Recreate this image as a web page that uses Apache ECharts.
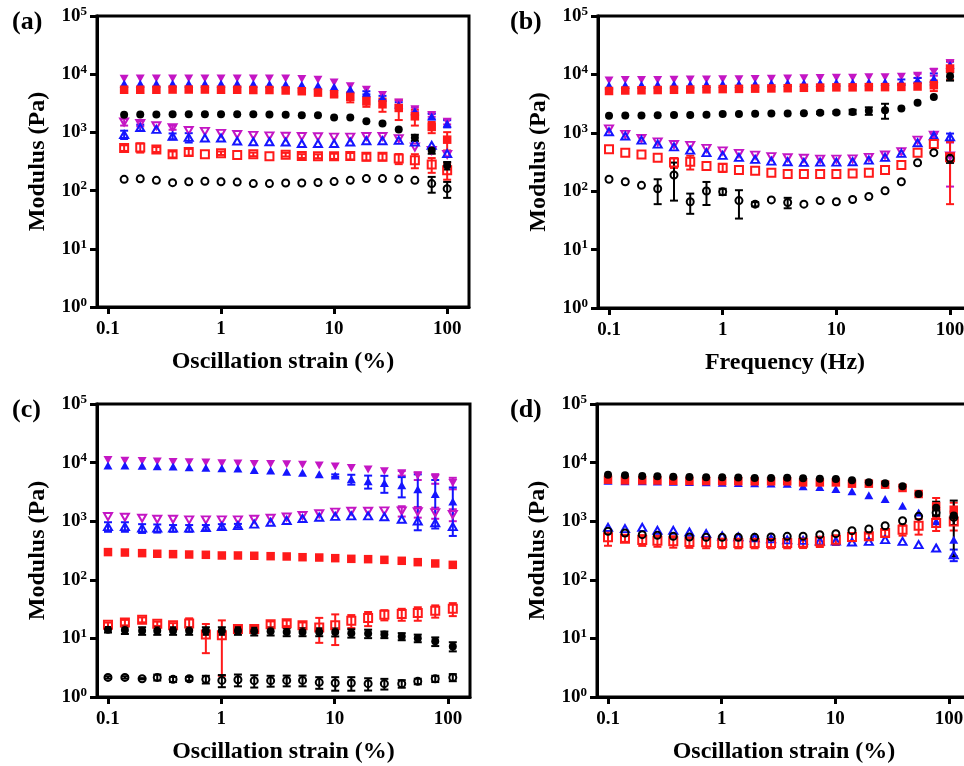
<!DOCTYPE html>
<html>
<head>
<meta charset="utf-8">
<script src="https://cdn.jsdelivr.net/npm/echarts@6/dist/echarts.min.js"></script>
<style>
    html, body { margin: 0; padding: 0; background: #fff; overflow: hidden; }
    #chart { width: 964px; height: 766px; }
</style>
</head>
<body>
<div id="chart"></div>
<script>
// x values (strain % or frequency Hz)
const strainA = [0.139, 0.193, 0.268, 0.373, 0.518, 0.72, 1, 1.39, 1.93, 2.68, 3.73, 5.18, 7.2, 10, 13.9, 19.3, 26.8, 37.3, 51.8, 73, 100];
const freqB = [0.1, 0.139, 0.193, 0.268, 0.373, 0.518, 0.72, 1, 1.39, 1.93, 2.68, 3.73, 5.18, 7.2, 10, 13.9, 19.3, 26.8, 37.3, 51.8, 72, 100];
const strainCD = [0.1, 0.141, 0.2, 0.272, 0.375, 0.52, 0.73, 1.01, 1.4, 1.95, 2.72, 3.77, 5.2, 7.3, 10.1, 14, 19.7, 27.4, 39, 54, 77, 110];

const xTicks = [0.1, 1, 10, 100];

// (a)
const aPinkFill = [8350, 8400, 8400, 8450, 8450, 8450, 8450, 8450, 8450, 8450, 8450, 8300, 8000, 7200, 6200, 5400, 4400, 3250, 2500, 2000, 1520];
const aPinkOpen = [1510, 1420, 1300, 1210, 1080, 1040, 960, 920, 890, 870, 857, 850, 840, 830, 830, 850, 850, 780, 560, 490, 420];
const aBlueFill = [6900, 6900, 6900, 6900, 6900, 6900, 6900, 6900, 6850, 6800, 6700, 6600, 6400, 6100, 5500, 4800, 3950, 3000, 2300, 1880, 1420];
const aBlueOpen = [920, 1210, 1130, 860, 820, 800, 800, 710, 690, 690, 684, 645, 645, 645, 684, 720, 720, 730, 680, 600, 432];
const aRedFill = [5400, 5400, 5400, 5450, 5450, 5450, 5400, 5400, 5350, 5350, 5250, 5100, 4830, 4520, 4080, 3400, 3040, 2630, 1890, 1240, 750];
const aRedOpen = [540, 550, 510, 420, 460, 420, 440, 410, 420, 390, 415, 393, 390, 390, 393, 380, 380, 355, 332, 282, 224];
const aBlackFill = [2020, 2030, 2040, 2050, 2050, 2050, 2050, 2050, 2050, 2030, 2020, 1970, 1970, 1800, 1800, 1550, 1420, 1120, 810, 490, 270];
const aBlackOpen = [156, 160, 150, 137, 142, 145, 142, 140, 132, 132, 135, 135, 138, 143, 150, 161, 161, 158, 150, 132, 108];
// (a) standard deviations
const aPinkFillSd = [0, 0, 0, 0, 0, 0, 0, 0, 0, 0, 0, 0, 0, 0, 0, 0, 0, 300, 200, 150, 150];
const aPinkOpenSd = [200, 150, 0, 100, 0, 0, 0, 0, 0, 0, 0, 0, 0, 0, 0, 0, 0, 0, 0, 0, 0];
const aBlueFillSd = [0, 0, 0, 0, 0, 0, 0, 0, 0, 0, 0, 0, 0, 0, 0, 300, 300, 300, 0, 200, 200];
const aBlueOpenSd = [150, 150, 0, 100, 150, 0, 0, 0, 0, 0, 0, 0, 0, 0, 0, 0, 0, 0, 0, 0, 0];
const aRedFillSd = [0, 0, 0, 0, 0, 0, 0, 0, 0, 0, 0, 200, 300, 350, 800, 650, 780, 1000, 580, 270, 260];
const aRedOpenSd = [60, 100, 50, 50, 60, 0, 30, 0, 30, 0, 30, 30, 30, 40, 50, 50, 50, 70, 90, 80, 70];
const aBlackFillSd = [0, 0, 0, 0, 0, 0, 0, 0, 0, 0, 0, 0, 0, 0, 0, 0, 0, 0, 100, 60, 40];
const aBlackOpenSd = [0, 0, 0, 0, 0, 0, 0, 0, 0, 0, 0, 0, 0, 0, 0, 0, 0, 0, 0, 40, 33];

// (b)
const bPinkFill = [7900, 8000, 8000, 8050, 8100, 8150, 8200, 8250, 8300, 8350, 8400, 8500, 8600, 8700, 8800, 8800, 8900, 8900, 9100, 9500, 11000, 15500];
const bPinkOpen = [1170, 940, 800, 700, 630, 610, 540, 490, 444, 415, 390, 374, 367, 355, 355, 358, 380, 417, 475, 750, 910, 400];
const bBlueFill = [6550, 6600, 6650, 6700, 6750, 6800, 6850, 6900, 6950, 7000, 7050, 7100, 7150, 7200, 7250, 7300, 7350, 7400, 7500, 8000, 8500, 14500];
const bBlueOpen = [1040, 880, 750, 640, 575, 506, 457, 411, 380, 351, 328, 320, 312, 315, 315, 320, 341, 380, 444, 676, 890, 850];
const bRedFill = [5200, 5300, 5350, 5400, 5450, 5500, 5550, 5600, 5650, 5700, 5750, 5800, 5900, 5950, 6000, 6000, 6050, 6050, 6100, 6200, 6530, 12600];
const bRedOpen = [525, 457, 427, 374, 310, 320, 270, 253, 230, 225, 207, 197, 197, 197, 197, 200, 207, 230, 280, 457, 640, 380];
const bBlackFill = [1960, 1970, 1980, 2000, 2010, 2020, 2040, 2090, 2100, 2120, 2130, 2140, 2170, 2200, 2230, 2280, 2380, 2440, 2610, 3260, 4120, 9330];
const bBlackOpen = [160, 145, 126, 110, 189, 66, 101, 98, 69, 60, 71, 64, 60, 69, 66, 72, 81, 102, 145, 307, 457, 365];
const bPinkFillSd = [0, 0, 0, 0, 0, 0, 0, 0, 0, 0, 0, 0, 0, 0, 0, 0, 0, 0, 0, 800, 1500, 2000];
const bPinkOpenSd = [0, 0, 0, 0, 0, 0, 0, 0, 0, 0, 0, 0, 0, 0, 0, 0, 0, 0, 0, 0, 0, 280];
const bBlueFillSd = [0, 0, 0, 0, 0, 0, 0, 0, 0, 0, 0, 0, 0, 0, 0, 0, 0, 0, 700, 700, 1900, 2000];
const bBlueOpenSd = [0, 0, 0, 0, 0, 0, 0, 0, 0, 0, 0, 0, 0, 0, 0, 0, 0, 0, 0, 0, 80, 120];
const bRedFillSd = [0, 0, 0, 0, 0, 0, 0, 0, 0, 0, 0, 0, 0, 0, 0, 0, 0, 0, 0, 0, 1350, 4500];
const bRedOpenSd = [0, 0, 0, 0, 60, 85, 0, 40, 0, 0, 0, 0, 0, 0, 0, 0, 0, 0, 0, 0, 0, 320];
const bBlackFillSd = [0, 0, 0, 0, 0, 0, 0, 0, 0, 0, 0, 0, 0, 100, 100, 200, 350, 700, 0, 0, 0, 1500];
const bBlackOpenSd = [0, 0, 0, 50, 120, 25, 43, 12, 35, 5, 0, 13, 0, 0, 0, 0, 0, 0, 0, 0, 0, 60];

// (c)
const cPinkFill = [11100, 10800, 10700, 10400, 10200, 10100, 10000, 9750, 9700, 9500, 9450, 9400, 9200, 8900, 8600, 8050, 7600, 7150, 6600, 5950, 5350, 4500];
const cPinkOpen = [1200, 1170, 1125, 1080, 1080, 1055, 1055, 1055, 1055, 1080, 1125, 1180, 1250, 1340, 1430, 1480, 1480, 1500, 1500, 1450, 1400, 1300];
const cBlueFill = [8900, 8900, 8800, 8700, 8560, 8330, 8200, 8000, 7900, 7500, 7300, 7000, 6700, 6300, 6000, 5200, 4800, 4500, 4100, 3500, 2900, 2160];
const cBlueOpen = [810, 810, 760, 760, 760, 760, 780, 810, 840, 890, 960, 1030, 1110, 1170, 1210, 1230, 1230, 1190, 1080, 1010, 940, 810];
const cRedFill = [297, 292, 285, 278, 274, 270, 267, 260, 260, 257, 253, 250, 243, 240, 234, 228, 225, 219, 211, 200, 190, 180];
const cRedOpen = [17.1, 18.7, 20.8, 17.8, 16.7, 18.0, 11.6, 11.3, 14.4, 14.4, 17.5, 18.2, 16.7, 15.4, 16.7, 20, 22.2, 25.3, 26, 27, 29.6, 32];
const cBlackFill = [14.1, 13.9, 13.5, 13.5, 13.5, 13.5, 13.5, 13.5, 13.5, 13.2, 13.2, 12.9, 12.9, 12.9, 12.8, 12.3, 12.1, 11.6, 10.8, 10.1, 8.9, 7.3];
const cBlackOpen = [2.16, 2.16, 2.05, 2.16, 2.0, 2.05, 2.0, 1.92, 1.97, 1.9, 1.9, 1.92, 1.92, 1.78, 1.73, 1.73, 1.69, 1.69, 1.69, 1.85, 2.05, 2.16];
const cPinkFillSd = [0, 0, 0, 0, 0, 0, 0, 0, 0, 0, 0, 0, 0, 0, 0, 0, 0, 0, 600, 900, 1000, 1000];
const cPinkOpenSd = [0, 0, 0, 0, 0, 0, 0, 0, 0, 0, 0, 0, 0, 0, 0, 0, 0, 0, 300, 300, 300, 300];
const cBlueFillSd = [0, 0, 0, 0, 0, 0, 0, 0, 0, 0, 0, 0, 0, 0, 300, 1000, 1200, 1450, 1550, 2800, 2150, 1600];
const cBlueOpenSd = [150, 150, 130, 120, 100, 100, 80, 80, 60, 0, 0, 0, 0, 0, 0, 0, 0, 0, 0, 0, 0, 0];
const cRedOpenSd = [1.5, 2, 2, 1.5, 1.5, 4, 6, 9, 1.5, 1.5, 2, 2, 2, 7, 9, 5, 6, 5, 6, 7, 7, 8];
const cBlackFillSd = [1.5, 2, 2, 2, 2, 2, 2, 2, 2, 2, 2, 2, 2, 2, 2, 2, 2, 1.5, 1.5, 1.5, 1.5, 1.3];
const cBlackOpenSd = [0.1, 0.1, 0.05, 0.25, 0.2, 0.15, 0.3, 0.45, 0.45, 0.45, 0.4, 0.4, 0.4, 0.4, 0.45, 0.45, 0.4, 0.35, 0.25, 0.2, 0.25, 0.3];

// (d)
const dBlueFill = [4900, 4800, 4800, 4750, 4700, 4650, 4600, 4550, 4500, 4450, 4400, 4370, 3930, 3830, 3540, 3230, 2760, 2390, 1840, 1410, 1000, 482];
const dBlueOpen = [786, 746, 786, 698, 698, 654, 613, 560, 540, 520, 500, 480, 470, 460, 460, 442, 453, 484, 453, 398, 349, 268];
const dRedFill = [5110, 4980, 4980, 4950, 4900, 4870, 4850, 4830, 4810, 4790, 4790, 4790, 4590, 4590, 4590, 4370, 4370, 4200, 3690, 2910, 1790, 1570];
const dRedOpen = [531, 504, 479, 466, 453, 441, 436, 425, 425, 425, 425, 425, 428, 453, 483, 535, 556, 628, 716, 840, 931, 993];
const dBlackFill = [6220, 6060, 5910, 5850, 5750, 5700, 5610, 5610, 5550, 5460, 5460, 5500, 5400, 5300, 5250, 4980, 4630, 4430, 3930, 2910, 1700, 1250];
const dBlackOpen = [671, 629, 589, 574, 552, 537, 530, 530, 530, 530, 537, 551, 555, 590, 613, 689, 736, 838, 1020, 1210, 1400, 1160];
const dBlueOpenSd = [0, 0, 0, 0, 0, 0, 0, 0, 0, 0, 0, 0, 0, 0, 0, 0, 0, 0, 0, 0, 0, 60];
const dRedFillSd = [0, 0, 0, 0, 0, 0, 0, 0, 0, 0, 0, 0, 0, 0, 0, 0, 0, 0, 0, 0, 700, 500];
const dRedOpenSd = [150, 60, 100, 100, 100, 90, 90, 80, 80, 80, 80, 80, 80, 90, 90, 80, 60, 80, 150, 250, 250, 300];
const dBlackFillSd = [0, 0, 0, 0, 0, 0, 0, 0, 0, 0, 0, 0, 0, 0, 0, 0, 0, 0, 0, 0, 450, 1000];
const dBlackOpenSd = [0, 0, 0, 0, 0, 0, 0, 0, 0, 0, 0, 0, 0, 0, 0, 0, 0, 0, 0, 0, 150, 300];

const FONT = 'Liberation Serif';
const PINK = '#c416c4';
const BLUE = '#1515ff';
const RED = '#ff1a1a';
const BLACK = '#000000';

// (b) and (d) run past the right edge of the picture, as in the original
const grids = [
    { left: 97, top: 16, width: 372, height: 291 },
    { left: 598, top: 16, width: 374, height: 292 },
    { left: 97, top: 404, width: 373, height: 293 },
    { left: 597, top: 404, width: 374, height: 293 }
];
const xNames = ['Oscillation strain (%)', 'Frequency (Hz)', 'Oscillation strain (%)', 'Oscillation strain (%)'];
const panelLabels = ['(a)', '(b)', '(c)', '(d)'];

function xAxisOf(i) {
    return {
        type: 'log',
        logBase: 10,
        gridIndex: i,
        min: 0.08,
        max: 156,
        name: xNames[i],
        nameLocation: 'middle',
        nameGap: 43,
        nameTextStyle: { fontFamily: FONT, fontWeight: 'bold', fontSize: 24, color: '#000' },
        axisLine: { show: true, onZero: false, lineStyle: { color: '#000', width: 3 } },
        axisTick: { show: true, length: 7, customValues: xTicks, lineStyle: { color: '#000', width: 3 } },
        minorTick: { show: false },
        axisLabel: {
            customValues: xTicks,
            margin: 13,
            color: '#000',
            fontFamily: FONT,
            fontWeight: 'bold',
            fontSize: 19,
            formatter: (v) => (v < 0.5 ? '0.1' : String(Math.round(v)))
        },
        splitLine: { show: false }
    };
}

function yAxisOf(i) {
    return {
        type: 'log',
        logBase: 10,
        gridIndex: i,
        min: 1,
        max: 100000,
        name: 'Modulus (Pa)',
        nameLocation: 'middle',
        nameGap: 47,
        nameTextStyle: { fontFamily: FONT, fontWeight: 'bold', fontSize: 24, color: '#000' },
        axisLine: { show: true, onZero: false, lineStyle: { color: '#000', width: 3 } },
        axisTick: { show: true, length: 7, lineStyle: { color: '#000', width: 3 } },
        axisLabel: {
            margin: 10,
            color: '#000',
            formatter: (v) => '{b|10}{s|' + Math.round(Math.log10(v)) + '}',
            rich: {
                b: { fontFamily: FONT, fontWeight: 'bold', fontSize: 19, color: '#000' },
                s: { fontFamily: FONT, fontWeight: 'bold', fontSize: 13, color: '#000', padding: [0, 0, 9, 0] }
            }
        },
        splitLine: { show: false }
    };
}

// marker styles
const STYLES = {
    pinkOpen: { color: PINK, symbol: 'triangle', rotate: 180, size: [8, 7], open: true },
    pinkFill: { color: PINK, symbol: 'triangle', rotate: 180, size: [9, 8], open: false },
    blueOpen: { color: BLUE, symbol: 'triangle', rotate: 0, size: [8, 7], open: true },
    blueFill: { color: BLUE, symbol: 'triangle', rotate: 0, size: [9, 8], open: false },
    redOpen: { color: RED, symbol: 'rect', rotate: 0, size: 8, open: true },
    redFill: { color: RED, symbol: 'rect', rotate: 0, size: 8.5, open: false },
    blackOpen: { color: BLACK, symbol: 'circle', rotate: 0, size: 7, open: true },
    blackFill: { color: BLACK, symbol: 'circle', rotate: 0, size: 8, open: false }
};

function errSeries(gi, xs, ys, sds, color) {
    const data = [];
    xs.forEach((x, i) => {
        const sd = sds[i];
        if (sd) {
            data.push([x, Math.max(ys[i] - sd, 1.02), ys[i] + sd]);
        }
    });
    return {
        type: 'custom',
        xAxisIndex: gi,
        yAxisIndex: gi,
        data: data,
        encode: { x: 0, y: [1, 2] },
        silent: true,
        renderItem: (params, api) => {
            const x = api.value(0);
            const lo = api.coord([x, api.value(1)]);
            const hi = api.coord([x, api.value(2)]);
            const w = 4;
            const st = { stroke: color, lineWidth: 2 };
            return {
                type: 'group',
                children: [
                    { type: 'line', shape: { x1: lo[0], y1: lo[1], x2: hi[0], y2: hi[1] }, style: st },
                    { type: 'line', shape: { x1: lo[0] - w, y1: lo[1], x2: lo[0] + w, y2: lo[1] }, style: st },
                    { type: 'line', shape: { x1: hi[0] - w, y1: hi[1], x2: hi[0] + w, y2: hi[1] }, style: st }
                ]
            };
        }
    };
}

function dotSeries(gi, xs, ys, key) {
    const s = STYLES[key];
    return {
        type: 'scatter',
        xAxisIndex: gi,
        yAxisIndex: gi,
        data: xs.map((x, i) => [x, ys[i]]),
        symbol: s.symbol,
        symbolSize: s.size,
        symbolRotate: s.rotate,
        silent: true,
        itemStyle: s.open
            ? { color: 'rgba(255,255,255,0)', borderColor: s.color, borderWidth: 2, opacity: 1 }
            : { color: s.color, opacity: 1 }
    };
}

// [panel, x, values, sd, style]
const groups = [
    [0, strainA, aPinkOpen, aPinkOpenSd, 'pinkOpen'],
    [0, strainA, aPinkFill, aPinkFillSd, 'pinkFill'],
    [0, strainA, aBlueOpen, aBlueOpenSd, 'blueOpen'],
    [0, strainA, aBlueFill, aBlueFillSd, 'blueFill'],
    [0, strainA, aRedOpen, aRedOpenSd, 'redOpen'],
    [0, strainA, aRedFill, aRedFillSd, 'redFill'],
    [0, strainA, aBlackOpen, aBlackOpenSd, 'blackOpen'],
    [0, strainA, aBlackFill, aBlackFillSd, 'blackFill'],
    [1, freqB, bPinkOpen, bPinkOpenSd, 'pinkOpen'],
    [1, freqB, bPinkFill, bPinkFillSd, 'pinkFill'],
    [1, freqB, bBlueOpen, bBlueOpenSd, 'blueOpen'],
    [1, freqB, bBlueFill, bBlueFillSd, 'blueFill'],
    [1, freqB, bRedOpen, bRedOpenSd, 'redOpen'],
    [1, freqB, bRedFill, bRedFillSd, 'redFill'],
    [1, freqB, bBlackOpen, bBlackOpenSd, 'blackOpen'],
    [1, freqB, bBlackFill, bBlackFillSd, 'blackFill'],
    [2, strainCD, cPinkOpen, cPinkOpenSd, 'pinkOpen'],
    [2, strainCD, cPinkFill, cPinkFillSd, 'pinkFill'],
    [2, strainCD, cBlueOpen, cBlueOpenSd, 'blueOpen'],
    [2, strainCD, cBlueFill, cBlueFillSd, 'blueFill'],
    [2, strainCD, cRedOpen, cRedOpenSd, 'redOpen'],
    [2, strainCD, cRedFill, null, 'redFill'],
    [2, strainCD, cBlackOpen, cBlackOpenSd, 'blackOpen'],
    [2, strainCD, cBlackFill, cBlackFillSd, 'blackFill'],
    [3, strainCD, dBlueOpen, dBlueOpenSd, 'blueOpen'],
    [3, strainCD, dBlueFill, null, 'blueFill'],
    [3, strainCD, dRedOpen, dRedOpenSd, 'redOpen'],
    [3, strainCD, dRedFill, dRedFillSd, 'redFill'],
    [3, strainCD, dBlackOpen, dBlackOpenSd, 'blackOpen'],
    [3, strainCD, dBlackFill, dBlackFillSd, 'blackFill']
];

const series = [];
groups.forEach(([gi, xs, ys, sds, key]) => {
    if (sds) {
        series.push(errSeries(gi, xs, ys, sds, STYLES[key].color));
    }
    series.push(dotSeries(gi, xs, ys, key));
});

const labelPos = [[12, 9], [510, 9], [12, 397], [510, 397]];

const option = {
    backgroundColor: '#fff',
    animation: false,
    grid: grids.map((g) => Object.assign({
        show: true,
        borderColor: '#000',
        borderWidth: 3,
        backgroundColor: 'transparent',
        containLabel: false,
        outerBoundsMode: 'none'
    }, g)),
    xAxis: grids.map((g, i) => xAxisOf(i)),
    yAxis: grids.map((g, i) => yAxisOf(i)),
    graphic: panelLabels.map((t, i) => ({
        type: 'text',
        left: labelPos[i][0],
        top: labelPos[i][1],
        style: { text: t, fontFamily: FONT, fontWeight: 'bold', fontSize: 26, fill: '#000' }
    })),
    series: series
};

const chart = echarts.init(document.getElementById('chart'), null, { renderer: 'canvas' });
chart.setOption(option);
</script>
</body>
</html>
